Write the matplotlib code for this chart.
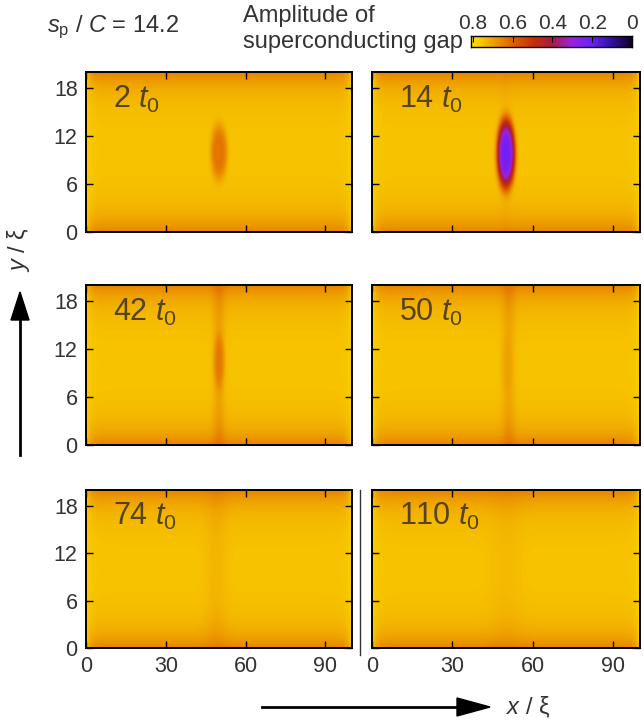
import numpy as np
import matplotlib
matplotlib.use("Agg")
import matplotlib.pyplot as plt
from matplotlib.colors import LinearSegmentedColormap
from matplotlib.lines import Line2D

plt.rcParams['font.family'] = ['Liberation Sans', 'DejaVu Sans']
plt.rcParams['mathtext.fontset'] = 'custom'
plt.rcParams['mathtext.rm'] = 'Liberation Sans'
plt.rcParams['mathtext.it'] = 'Liberation Sans:italic'

# snapshots (in units of t0) and the gap suppression
times = [2, 14, 42, 50, 74, 110]
dip_depth = [0.125, 0.53, 0.07, 0.015, 0.0, 0.0]
dip_sx = [3.2, 3.4, 2.2, 2.2, 1.0, 1.0]
dip_sy = [3.5, 4.3, 3.4, 3.4, 1.0, 1.0]
dip_y = [10.0, 9.8, 10.5, 10.0, 10.0, 10.0]
stripe_depth = [0.0, 0.01, 0.06, 0.055, 0.028, 0.018]
stripe_w = [2.0, 2.0, 2.2, 2.4, 4.0, 6.0]
stripe_x = [50, 50, 50, 51, 49, 50]
dip_x = 50

base_gap = 0.755
edge_depth = 0.1
edge_len = 2.2
x_max, y_max = 100, 20

xticks = [0, 30, 60, 90]
yticks = [0, 6, 12, 18]
cbar_ticks = [0.8, 0.6, 0.4, 0.2, 0]

# palette: value -> colour
cmap_pos = [0.0, 0.1, 0.2, 0.3, 0.4, 0.5, 0.6, 0.7, 0.8, 0.85]
cmap_col = ['#120028', '#3010a0', '#6a20f5', '#9c22e0', '#a81a48',
            '#c83200', '#e06000', '#eea000', '#ffe000', '#fff070']
vmax = 0.85
cmap = LinearSegmentedColormap.from_list(
    'gap', [(p / vmax, c) for p, c in zip(cmap_pos, cmap_col)])

xs = np.linspace(0, x_max, 300)
ys = np.linspace(0, y_max, 120)
X, Y = np.meshgrid(xs, ys)


def gap_field(k):
    band = edge_depth * (np.exp(-Y / edge_len) + np.exp(-(y_max - Y) / edge_len))
    fade = np.clip(1 - np.exp(-X / 1.2) - np.exp(-(x_max - X) / 1.2), 0, 1)
    g = base_gap - band * fade + 0.02 * (np.exp(-X / 1.5) + np.exp(-(x_max - X) / 1.5))
    g = g * (1 - stripe_depth[k] * np.exp(-((X - stripe_x[k]) / stripe_w[k]) ** 2))
    r4 = (((X - dip_x) / dip_sx[k]) ** 2 + ((Y - dip_y[k]) / dip_sy[k]) ** 2) ** 2
    return g - dip_depth[k] * np.exp(-r4)


fig = plt.figure(figsize=(6.44, 7.23), dpi=100)
W, H = 644, 723

col_left = [86, 372]
col_width = [266, 268]
row_top = [72, 285, 490]
row_height = [160, 160, 158]

for k, t in enumerate(times):
    r, c = divmod(k, 2)
    ax = fig.add_axes([col_left[c] / W, 1 - (row_top[r] + row_height[r]) / H,
                       col_width[c] / W, row_height[r] / H])
    ax.imshow(gap_field(k), origin='lower', extent=(0, x_max, 0, y_max),
              aspect='auto', cmap=cmap, vmin=0, vmax=vmax, interpolation='bilinear')
    ax.set_xlim(0, x_max)
    ax.set_ylim(0, y_max)
    ax.set_xticks(xticks)
    ax.set_yticks(yticks)
    ax.tick_params(direction='in', top=True, right=True, length=5, width=1,
                   labelsize=15.5, labelcolor='#333333', pad=6)
    if c == 1:
        ax.set_yticklabels([])
    if r < 2:
        ax.set_xticklabels([])
    for s in ax.spines.values():
        s.set_linewidth(1.4)
    ax.text(10, 16.6, rf'${t}\ t_0$', fontsize=22, color='#3a3020', alpha=0.85,
            ha='left', va='center')

# separator line between the bottom panels
fig.add_artist(Line2D([360 / W, 360 / W], [1 - 655 / H, 1 - 490 / H],
                      color='#333333', lw=1.0))

# colour bar
cax = fig.add_axes([471 / W, 1 - 47 / H, 161 / W, 11 / H])
cb_x = np.linspace(0, 0.81, 300)
cax.imshow(cb_x[None, :], extent=(0, 0.81, 0, 1), aspect='auto', cmap=cmap,
           vmin=0, vmax=vmax, origin='lower')
cax.set_xlim(0.81, 0)
cax.set_ylim(0, 1)
cax.set_yticks([])
cax.set_xticks(cbar_ticks)
cax.set_xticklabels(['0.8', '0.6', '0.4', '0.2', '0'])
cax.tick_params(axis='x', direction='in', top=True, bottom=False, labeltop=True,
                labelbottom=False, length=4, labelsize=15, labelcolor='#333333', pad=2)
for s in cax.spines.values():
    s.set_linewidth(1.0)

fig.text(47 / W, 1 - 27 / H, r'$s_\mathrm{p}$ / $C$ = 14.2', fontsize=17,
         color='#333333', ha='left', va='center')
fig.text(243 / W, 1 - 16 / H, 'Amplitude of', fontsize=17, color='#333333',
         ha='left', va='center')
fig.text(243 / W, 1 - 42 / H, 'superconducting gap', fontsize=17, color='#333333',
         ha='left', va='center')

# axis arrows and labels
fig.add_artist(Line2D([20 / W, 20 / W], [1 - 455 / H, 1 - 318 / H], color='black', lw=2))
fig.patches.append(plt.Polygon([[11 / W, 1 - 320 / H], [29 / W, 1 - 320 / H],
                                [20 / W, 1 - 292 / H]], closed=True, color='black',
                               transform=fig.transFigure, figure=fig))
fig.text(18 / W, 1 - 250 / H, r'$y$ / ξ', fontsize=17, color='#333333', rotation=90,
         ha='center', va='center')

fig.add_artist(Line2D([262 / W, 460 / W], [1 - 707 / H, 1 - 707 / H], color='black', lw=2))
fig.patches.append(plt.Polygon([[457 / W, 1 - 698 / H], [457 / W, 1 - 716 / H],
                                [490 / W, 1 - 707 / H]], closed=True, color='black',
                               transform=fig.transFigure, figure=fig))
fig.text(506 / W, 1 - 707 / H, r'$x$ / ξ', fontsize=17, color='#333333',
         ha='left', va='center')

fig.savefig('out.png', dpi=100)
